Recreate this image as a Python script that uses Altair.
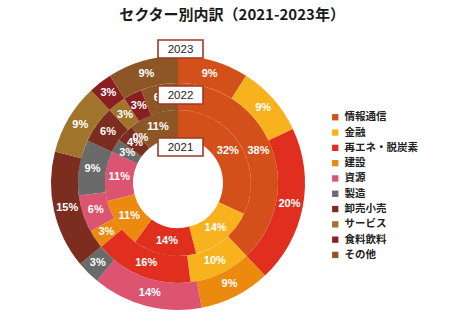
import altair as alt
import pandas as pd

# ---- data ----
categories = ["情報通信", "金融", "再エネ・脱炭素", "建設", "資源", "製造", "卸売小売", "サービス", "食料飲料", "その他"]
colors = ["#d4501a", "#f7b21e", "#e02f1f", "#ec8a0f", "#dc5470", "#6a6a6a", "#7b2e20", "#a0742a", "#8a1f22", "#8d5627"]
years = ["2021", "2022", "2023"]
values_2021 = [32, 14, 14, 11, 11, 3, 4, 0, None, 11]
values_2022 = [38, 10, 16, 3, 6, 9, 6, 3, 3, 6]
values_2023 = [9, 9, 20, 9, 14, 3, 15, 9, 3, 9]
title_text = "セクター別内訳（2021-2023年）"

series = {"2021": values_2021, "2022": values_2022, "2023": values_2023}
rows = []
for y in years:
    for i, (c, v) in enumerate(zip(categories, series[y])):
        if v is None:
            continue
        rows.append({"year": y, "category": c, "value": v, "order": i, "label": f"{v}%"})
df = pd.DataFrame(rows)

# ---- geometry / style ----
CX, CY = 178, 183
rings = {"2021": (45, 73), "2022": (73, 100), "2023": (100, 127)}
box_y = {"2023": 49, "2022": 95, "2021": 147}
BOX_X, BOX_W, BOX_H = 180.5, 45, 18

layers = []
for idx, y in enumerate(years):
    r_in, r_out = rings[y]
    base = alt.Chart(df).transform_filter(alt.datum.year == y)
    arc = base.mark_arc(radius=r_out, radius2=r_in, x=CX, y=CY).encode(
        theta=alt.Theta("value:Q", stack=True, scale=alt.Scale(domain=[0, 100])),
        color=alt.Color(
            "category:N",
            scale=alt.Scale(domain=categories, range=colors),
            sort=categories,
            legend=alt.Legend(
                title=None, orient="none", legendX=330, legendY=112,
                symbolType="square", symbolSize=40, symbolStrokeWidth=0,
                labelFont="Noto Sans CJK JP", labelFontSize=10.5, labelFontWeight="bold",
                labelColor="#222222", rowPadding=4.3, labelOffset=4, values=categories,
            ) if idx == 0 else None,
        ),
        order=alt.Order("order:Q"),
    )
    txt = base.mark_text(radius=(r_in + r_out) / 2, x=CX, y=CY, color="white", font="Liberation Sans",
                         fontSize=11, fontWeight="bold").encode(
        theta=alt.Theta("value:Q", stack=True, scale=alt.Scale(domain=[0, 100])),
        detail="category:N",
        order=alt.Order("order:Q"),
        text="label:N",
    )
    layers += [arc, txt]

yr_df = pd.DataFrame({"year": years})
for y in years:
    b = alt.Chart(yr_df).transform_filter(alt.datum.year == y)
    layers.append(b.mark_rect(fill="white", stroke="#9a3a28", strokeWidth=1.6).encode(
        x=alt.value(BOX_X - BOX_W / 2), x2=alt.value(BOX_X + BOX_W / 2),
        y=alt.value(box_y[y] - BOX_H / 2), y2=alt.value(box_y[y] + BOX_H / 2)))
    layers.append(b.mark_text(font="Liberation Sans", fontSize=11.5, color="#222222").encode(
        text="year:N", x=alt.value(BOX_X), y=alt.value(box_y[y] + 0.5)))

title = alt.Chart(pd.DataFrame({"t": [title_text]})).mark_text(
    font="Noto Sans CJK JP", fontSize=15, fontWeight="bold", color="#1a1a1a").encode(
    text="t:N", x=alt.value(232), y=alt.value(15))
layers.append(title)

chart = alt.layer(*layers).resolve_scale(theta="independent").properties(
    width=465, height=322, autosize=alt.AutoSizeParams(type="none"), padding=0
).configure_view(stroke=None)

chart.save("out.html", embed_options={"renderer": "svg", "actions": False})
